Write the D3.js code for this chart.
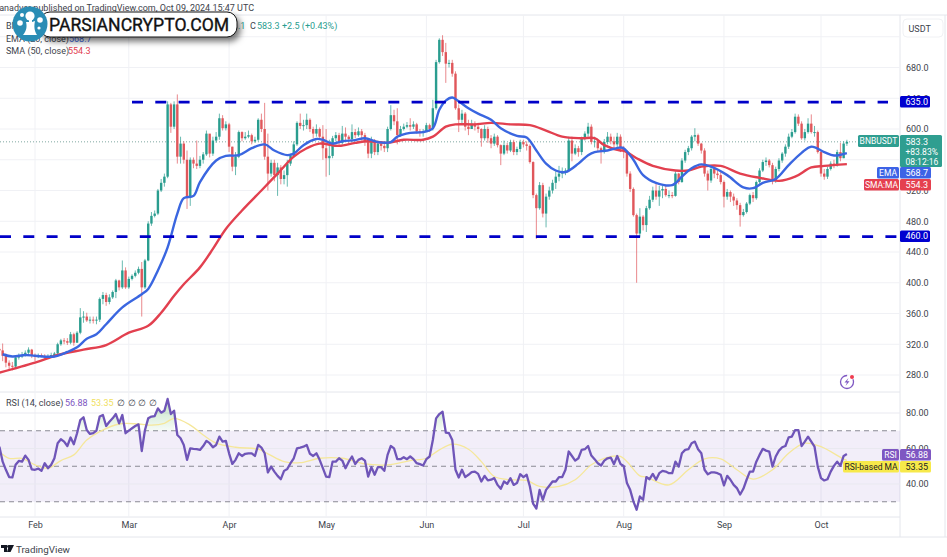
<!DOCTYPE html>
<html>
<head>
<meta charset="utf-8">
<script src="https://cdn.jsdelivr.net/npm/d3@7/dist/d3.min.js"></script>
<style>
html, body { margin: 0; padding: 0; background: #fff; }
svg { display: block; }
text { font-family: Roboto, sans-serif; }
</style>
</head>
<body>
<svg id="chart" width="947" height="557"></svg>
<script>
// daily closes, Jan 21 to Oct 9 2024, one row per month
var closes = [
  312,305,296,292,291,303,304,306,309,313,305,
  304,306,305,303,304,306,308,320,325,324,322,333,322,335,355,356,351,352,351,352,379,384,375,381,388,403,394,416,394,
  405,409,413,418,394,429,477,487,490,520,530,538,632,603,632,564,581,560,511,560,555,552,560,567,594,568,585,590,614,601,606,
  577,551,564,596,588,590,592,584,586,612,600,564,542,556,540,550,535,540,555,565,580,608,604,605,612,600,594,600,590,575,
  562,565,588,592,582,594,590,587,596,592,597,592,583,568,585,570,581,578,575,600,618,610,592,600,603,605,603,606,597,595,597,
  605,600,627,687,716,700,685,686,672,627,612,620,603,600,607,603,600,588,600,588,581,590,579,568,579,572,583,570,574,583,
  580,578,557,514,497,527,490,512,520,530,538,542,544,546,585,568,575,570,588,594,603,583,584,575,570,583,590,584,580,590,575,
  570,542,522,488,464,486,475,497,508,520,512,520,522,514,514,513,542,531,559,570,575,590,592,581,572,542,533,548,542,540,531,
  512,518,512,507,501,488,492,503,514,510,531,546,557,559,553,533,548,559,568,577,590,596,616,607,588,596,607,596,596,570,
  542,538,548,555,553,570,562,581,583.3
];
var highs = [
  316,321,308,299,297,305,308,310,312,316,314,
  308,308,308,307,307,309,310,322,327,328,328,336,335,337,367,363,361,356,356,356,381,388,387,385,390,405,404,429,420,
  408,411,416,421,427,431,480,492,494,522,535,542,636,634,636,645,590,584,572,563,563,585,565,570,598,592,590,596,620,618,610,
  608,577,570,598,597,596,598,594,590,614,620,634,594,560,560,556,553,546,560,568,584,610,620,612,620,614,603,606,602,605,
  600,586,591,596,595,604,602,592,606,600,602,600,595,585,590,587,585,584,582,603,631,625,627,604,607,609,614,610,608,600,600,
  608,607,638,690,718,722,712,690,690,675,632,625,622,612,612,610,608,601,605,603,592,594,592,580,585,582,586,586,577,586,
  586,584,580,558,516,531,530,516,525,534,545,552,550,549,590,590,580,578,590,597,608,606,590,586,577,587,596,594,590,595,593,
  578,572,545,524,490,497,488,500,513,525,530,526,526,526,520,518,545,543,562,573,578,592,601,594,582,575,546,552,551,546,544,
  533,522,520,516,510,504,496,505,516,518,533,549,560,563,561,556,551,562,570,580,594,600,620,619,610,600,614,619,604,598,
  572,548,551,558,560,573,582,584,586
];
var lows = [
  308,298,290,287,286,289,300,302,304,305,302,
  298,302,303,300,301,303,304,306,318,320,319,320,318,322,333,348,349,347,347,346,349,372,370,372,379,380,390,392,392,
  392,403,407,411,356,392,428,474,485,488,518,525,536,595,600,555,555,555,496,500,549,548,549,555,565,563,565,582,586,598,598,
  570,545,540,562,584,586,588,580,582,584,596,560,520,538,532,513,528,528,525,552,563,578,600,598,600,596,588,590,586,560,
  538,540,562,584,578,580,585,582,583,588,590,585,578,562,562,566,566,572,570,570,598,605,580,590,598,601,598,600,594,590,590,
  598,596,598,625,685,695,660,680,668,625,596,606,598,592,600,598,595,577,585,582,575,578,576,553,566,568,570,566,566,570,
  576,572,555,510,457,495,485,472,508,516,522,532,536,540,544,558,566,564,566,585,590,580,576,570,555,568,580,580,574,572,570,
  562,538,518,486,400,460,468,466,495,505,508,500,510,512,510,510,512,528,530,556,566,572,584,578,568,538,520,530,536,535,528,
  498,508,505,500,495,473,486,490,501,505,508,529,544,552,550,528,530,545,556,564,574,588,594,604,586,585,594,594,590,568,
  538,534,535,546,549,551,558,562,578
];
var rsi = [
  61,52.6,48,43.9,43.7,50.8,53,52.6,56,53.6,48.3,
  48,48.7,47.4,51.7,48.9,50.8,54.5,63,65.2,63.9,61.4,66.2,62.4,68.6,76,77.6,70.4,68.2,68.6,70.1,78,78.9,72.7,75.1,77,79.4,74.2,78.9,68.6,
  70.1,71.4,72.7,73.6,58.6,70.4,77,78,78.3,82.6,80.2,81.3,87.9,79.4,81.3,67.6,65.8,62,53.6,60.1,59.8,59.6,59.2,61.4,64.3,63,60.7,62,66.7,63.9,64.3,
  57.3,51.3,53.6,57.3,55.8,57,57.3,57.3,55.8,62,60.5,57.3,46.5,49.8,47,44.6,42.7,47.4,48.5,51.7,54.5,60.1,60.5,61,62,57,55.8,57.3,53.6,48.9,
  44.2,43.9,52.6,52.6,54.5,53.2,48.9,52.6,55.5,51.3,53.6,54.5,53.2,44.2,49.5,45.2,49.5,49.5,47.4,56.4,61.4,60.1,54,54,55.1,54,55.5,54,51.7,51.2,50.4,
  54,55.5,64.8,77,79.4,80.7,69,68.6,64.8,48,43.7,48,43.9,45.2,46.7,47,45.7,41.4,44.6,42,42.4,43.3,39.5,37.3,41.4,40.1,43.3,39.5,40.5,45.5,
  43.9,45.2,38.6,28.9,26.2,36.7,31.1,36.7,39,41.4,41.4,43.9,43.9,48,58.3,55.8,53.2,54.5,59.2,59.6,61.4,56,54,51.7,50.4,53.2,54.5,54.9,51.2,55.8,51.3,
  50.2,40.5,36.7,30.2,25.5,33,31.1,43.9,42.7,45.7,42.4,46.1,47.4,47,46.1,46.1,52.6,49.8,57.3,59.2,59.6,63,63.9,59.6,57.3,48,45.5,46.5,46.5,46.1,45.2,
  39.2,44.6,42.4,39.5,37.7,34.1,37.3,42.4,47,47,52.6,56.4,59.8,58.8,58.3,49.8,55.5,58.8,60.7,61.4,66.3,66.7,70.4,70.4,61.4,63.9,66.7,63.9,61,49.8,
  43.3,42,42.7,47,50.2,52.6,50.2,55.8,56.88
];

// moving averages read at spaced dates
var emaDates = ["01-22","01-25","01-29","02-01","02-07","02-11","02-14","02-17","02-20","02-23","02-28","03-05","03-07","03-10","03-13","03-16","03-18","03-21","03-23","03-28","03-31","04-04","04-08","04-12","04-15","04-19","04-21","04-24","04-28","04-30","05-03","05-06","05-10","05-13","05-17","05-21","05-23","05-27","05-31","06-03","06-05","06-07","06-09","06-11","06-14","06-17","06-21","06-24","06-29","07-02","07-05","07-08","07-11","07-14","07-18","07-21","07-23","07-27","07-31","08-01","08-04","08-07","08-11","08-16","08-19","08-22","08-25","08-28","09-02","09-07","09-10","09-13","09-17","09-21","09-25","09-28","10-02","10-05","10-09"];
var emaValues = [307,304,306,305,304,310,316,327,333,346,368,385,392,416,446,490,510,513,531,559,565,566,575,580,572,566,568,579,587,586,581,584,585.6,588,583,583,590,595,596,601,625,637,641,636,627,620,612,601,591,589,572,555,546,544,555,566,570,572,576,575,560,540,530,527,538,549,554,551,540,524,523,530,535,553,569,577,570,565.5,568.7];
var smaDates = ["01-21","02-01","02-08","02-16","02-23","03-01","03-07","03-11","03-15","03-18","03-23","03-27","03-31","04-05","04-11","04-16","04-21","04-25","04-29","05-05","05-10","05-14","05-20","05-25","05-31","06-03","06-07","06-10","06-16","06-21","06-27","07-03","07-08","07-13","07-19","07-23","07-26","07-31","08-01","08-05","08-10","08-17","08-21","08-25","08-31","09-06","09-12","09-18","09-23","09-28","10-02","10-09"];
var smaValues = [283,296,306,313,319,335,344,361,383,398,420,444,470,494,520,542,564,575,581,578,582,584,582,586,586,590,603,606,606,608,606,605,598,590,588,588,579,572,572,562,552,546,546,551,552,542,536.5,532.5,538,550,552,554.3];
var rsiMaDates = ["01-21","01-24","01-28","02-01","02-05","02-09","02-13","02-17","02-21","02-27","03-04","03-08","03-12","03-15","03-20","03-24","03-28","04-03","04-10","04-13","04-18","04-23","04-29","05-06","05-13","05-20","05-27","06-01","06-05","06-09","06-14","06-18","06-22","06-27","07-02","07-06","07-12","07-17","07-22","07-26","07-31","08-06","08-08","08-15","08-21","08-26","08-31","09-05","09-10","09-16","09-21","09-26","10-01","10-08","10-09"];
var rsiMaValues = [58.3,54.5,54.5,50.8,48.9,53.2,56.4,64.8,69.5,73.8,73.8,73.2,74.2,77,73.2,67.6,63,60.7,59.6,57,52.6,52,54.5,54.5,51.3,50.8,53.2,54.5,59.2,62.4,59.6,52.6,44.2,42.4,42,38.6,38.6,42.4,50.8,54.5,55.5,44.6,43.9,39.5,48,54.2,54.2,48,42.7,48,57.3,63,61,54,53.35];

var priceTicks = [280,320,360,400,440,480,520,560,600,640,680];
var rsiTicks = [40,60,80];
var levels = [635,460];
var monthLabels = ["Feb","Mar","Apr","May","Jun","Jul","Aug","Sep","Oct"];

var up = "#2a9d8f", down = "#e0575b";
var axisX = 900;

var parseDay = function(s) { return new Date("2024-" + s + "T00:00:00Z"); };
var days = closes.map(function(c, i) { return new Date(Date.UTC(2024, 0, 21 + i)); });
var monthDates = monthLabels.map(function(m, i) { return new Date(Date.UTC(2024, i + 1, 1)); });

var x = d3.scaleUtc().domain([new Date(Date.UTC(2024,1,1)), new Date(Date.UTC(2024,9,1))]).range([35, 821]);
var y = d3.scaleLinear().domain([280, 680]).range([375, 67.5]);
var yR = d3.scaleLinear().domain([40, 80]).range([484, 413]);

var svg = d3.select("#chart");
svg.append("rect").attr("width", 947).attr("height", 557).attr("fill", "#fff");

var defs = svg.append("defs");
defs.append("filter").attr("id", "pillShadow").attr("x", "-10%").attr("y", "-40%").attr("width", "120%").attr("height", "200%")
  .append("feDropShadow").attr("dx", 3).attr("dy", 4).attr("stdDeviation", 3).attr("flood-color", "#000").attr("flood-opacity", 0.55);
var grad = defs.append("linearGradient").attr("id", "obFill").attr("x1", 0).attr("x2", 0).attr("y1", 0).attr("y2", 1);
grad.append("stop").attr("offset", "0%").attr("stop-color", "#4caf50").attr("stop-opacity", 0.35);
grad.append("stop").attr("offset", "100%").attr("stop-color", "#4caf50").attr("stop-opacity", 0.05);

// panel frames
var frameColor = "#e4e6ec";
[[0,15,947,15],[0,392,900,392],[0,517,900,517],[0,537,947,537],[axisX,15,axisX,537],[945,15,945,537]].forEach(function(l) {
  svg.append("line").attr("x1", l[0]).attr("y1", l[1]).attr("x2", l[2]).attr("y2", l[3]).attr("stroke", frameColor);
});

// grid
svg.append("g").selectAll("line").data(monthDates).enter().append("line")
  .attr("x1", function(d) { return x(d); }).attr("x2", function(d) { return x(d); })
  .attr("y1", 15).attr("y2", 517).attr("stroke", "#f0f1f5");
svg.append("g").selectAll("line").data(priceTicks.concat([720])).enter().append("line")
  .attr("x1", 0).attr("x2", axisX)
  .attr("y1", function(d) { return y(d); }).attr("y2", function(d) { return y(d); })
  .attr("stroke", "#f0f1f5");

// RSI band
svg.append("rect").attr("x", 0).attr("width", axisX).attr("y", yR(70)).attr("height", yR(30) - yR(70)).attr("fill", "#7e57c2").attr("opacity", 0.1);
svg.append("g").selectAll("line").data(rsiTicks).enter().append("line")
  .attr("x1", 0).attr("x2", axisX)
  .attr("y1", function(d) { return yR(d); }).attr("y2", function(d) { return yR(d); })
  .attr("stroke", "#e9e9f0");
svg.append("g").selectAll("line").data([70,50,30]).enter().append("line")
  .attr("x1", 0).attr("x2", axisX)
  .attr("y1", function(d) { return yR(d); }).attr("y2", function(d) { return yR(d); })
  .attr("stroke", "#8a8a94").attr("stroke-dasharray", "5,4");

// last price dotted line
svg.append("line").attr("x1", 0).attr("x2", 858).attr("y1", y(583.3)).attr("y2", y(583.3))
  .attr("stroke", "#7fa8a2").attr("stroke-dasharray", "1,2");

// candles
var candles = svg.append("g");
candles.selectAll("line").data(closes).enter().append("line")
  .attr("x1", function(d, i) { return x(days[i]); })
  .attr("x2", function(d, i) { return x(days[i]); })
  .attr("y1", function(d, i) { return y(highs[i]); })
  .attr("y2", function(d, i) { return y(lows[i]); })
  .attr("stroke", function(d, i) { return d >= (i ? closes[i - 1] : 314) ? up : down; })
  .attr("stroke-opacity", 0.7)
  .attr("stroke-width", 1);
candles.selectAll("rect").data(closes).enter().append("rect")
  .attr("x", function(d, i) { return x(days[i]) - 1.2; })
  .attr("width", 2.4)
  .attr("y", function(d, i) { return y(Math.max(d, i ? closes[i - 1] : 314)); })
  .attr("height", function(d, i) { return Math.max(1, Math.abs(y(d) - y(i ? closes[i - 1] : 314))); })
  .attr("fill", function(d, i) { return d >= (i ? closes[i - 1] : 314) ? up : down; });

// moving averages
var priceLine = d3.line().x(function(d) { return x(parseDay(d[0])); }).y(function(d) { return y(d[1]); }).curve(d3.curveCatmullRom.alpha(0.5));
svg.append("path").attr("d", priceLine(d3.zip(smaDates, smaValues))).attr("fill", "none").attr("stroke", "#e2404f").attr("stroke-width", 2.4);
svg.append("path").attr("d", priceLine(d3.zip(emaDates, emaValues))).attr("fill", "none").attr("stroke", "#3a66e0").attr("stroke-width", 2.4);

// support and resistance
var levelStart = [132, 0], levelEnd = [888, 897];
svg.append("g").selectAll("line").data(levels).enter().append("line")
  .attr("x1", function(d, i) { return levelStart[i]; })
  .attr("x2", function(d, i) { return levelEnd[i]; })
  .attr("y1", function(d) { return y(d); }).attr("y2", function(d) { return y(d); })
  .attr("stroke", "#0000c8").attr("stroke-width", 2.6).attr("stroke-dasharray", "11,12.3");

// RSI
var rsiPts = d3.zip(days, rsi);
var ob = d3.area().defined(function(d) { return d[1] > 70; })
  .x(function(d) { return x(d[0]); }).y0(yR(70)).y1(function(d) { return yR(d[1]); });
svg.append("path").attr("d", ob(rsiPts)).attr("fill", "url(#obFill)");
var rsiMaLine = d3.line().x(function(d) { return x(parseDay(d[0])); }).y(function(d) { return yR(d[1]); }).curve(d3.curveCatmullRom.alpha(0.5));
svg.append("path").attr("d", rsiMaLine(d3.zip(rsiMaDates, rsiMaValues))).attr("fill", "none").attr("stroke", "#f5e79a").attr("stroke-width", 1.3);
var rsiLine = d3.line().x(function(d) { return x(d[0]); }).y(function(d) { return yR(d[1]); });
svg.append("path").attr("d", rsiLine(rsiPts)).attr("fill", "none").attr("stroke", "#6f55b8").attr("stroke-width", 2.3).attr("stroke-linejoin", "round");

// axes
var priceAxis = d3.axisRight(y).tickValues(priceTicks).tickSize(0).tickPadding(6).tickFormat(d3.format(".1f"));
var gP = svg.append("g").attr("transform", "translate(" + axisX + ",0)").call(priceAxis);
var rsiAxis = d3.axisRight(yR).tickValues(rsiTicks).tickSize(0).tickPadding(6).tickFormat(d3.format(".2f"));
var gR = svg.append("g").attr("transform", "translate(" + axisX + ",0)").call(rsiAxis);
var timeAxis = d3.axisBottom(x).tickValues(monthDates).tickSize(0).tickPadding(5).tickFormat(function(d, i) { return monthLabels[i]; });
var gT = svg.append("g").attr("transform", "translate(0,517)").call(timeAxis);
[gP, gR, gT].forEach(function(g) {
  g.select(".domain").remove();
  g.selectAll("text").attr("font-size", 9).attr("font-family", "Roboto, sans-serif").attr("fill", "#40434c");
});

// right hand tags
function tag(xa, w, yTop, h, color, label, textColor, anchor) {
  svg.append("rect").attr("x", xa).attr("y", yTop).attr("width", w).attr("height", h).attr("rx", 1.5).attr("fill", color);
  svg.append("text").attr("x", anchor === "middle" ? xa + w / 2 : xa + 5.5).attr("y", yTop + h / 2 + 3.2)
    .attr("text-anchor", anchor || "start").attr("font-size", anchor === "middle" ? 8.5 : 9).attr("fill", textColor || "#fff").text(label);
}
tag(900, 30, 96, 11.5, "#0000d0", "635.0");
tag(900, 30, 230.5, 11.5, "#0000d0", "460.0");
tag(858, 41, 135, 12, "#2f9e90", "BNBUSDT", "#fff", "middle");
svg.append("rect").attr("x", 900).attr("y", 135).attr("width", 42).attr("height", 32).attr("rx", 1.5).attr("fill", "#2f9e90");
["583.3", "+83.83%", "08:12:16"].forEach(function(s, i) {
  svg.append("text").attr("x", 905.5).attr("y", 144.5 + i * 10.4).attr("font-size", i ? 8.5 : 9).attr("fill", "#fff").text(s);
});
tag(877, 22, 167, 11.5, "#3d63e6", "EMA", "#fff", "middle");
tag(900, 31, 167, 11.5, "#3d63e6", "568.7");
tag(864, 35, 179, 11.5, "#e5404f", "SMA:MA", "#fff", "middle");
tag(900, 31, 179, 11.5, "#e5404f", "554.3");
tag(882, 17, 449, 11.5, "#7e57c2", "RSI", "#fff", "middle");
tag(900, 31, 449, 11.5, "#7e57c2", "56.88");
tag(843, 56, 461, 11.5, "#f7e94a", "RSI-based MA", "#222", "middle");
tag(900, 31, 461, 11.5, "#f7e94a", "53.35", "#222");

// currency box
svg.append("rect").attr("x", 903).attr("y", 19).attr("width", 40).attr("height", 18).attr("rx", 4).attr("fill", "#fff").attr("stroke", "#f0f1f4");
svg.append("text").attr("x", 908.5).attr("y", 32).attr("font-size", 9).attr("fill", "#40434c").text("USDT");

// lightning badge
var badge = svg.append("g").attr("transform", "translate(847,382)");
badge.append("circle").attr("r", 6.5).attr("fill", "none").attr("stroke", "#7e57c2").attr("stroke-width", 1.3).attr("stroke-dasharray", "30,7");
badge.append("path").attr("d", "M1.5,-4 L-2.5,0.6 L0,0.6 L-1.5,4 L2.5,-0.8 L0,-0.8 Z").attr("fill", "#7e57c2");
badge.append("circle").attr("cx", 5).attr("cy", -5).attr("r", 2).attr("fill", "#ef3b4f");

// legends
function label(xa, ya, s, color, size) {
  return svg.append("text").attr("x", xa).attr("y", ya).attr("font-size", size || 9).attr("fill", color).text(s);
}
label(6, 29, "BNBUSDT", "#40434c");
label(238, 29, ".1", "#2a9d8f");
label(250, 29, "C", "#40434c");
label(257, 29, "583.3", "#2a9d8f");
label(282, 29, "+2.5 (+0.43%)", "#2a9d8f");
label(6, 42, "EMA (20, close)", "#40434c");
label(69, 42, "568.7", "#3a66e0");
label(6, 54, "SMA (50, close)", "#40434c");
label(68, 54, "554.3", "#e2404f");
label(6, 406, "RSI (14, close)", "#40434c");
label(65, 406, "56.88", "#7e57c2");
label(91, 406, "53.35", "#f0e060");
["∅","∅","∅","∅"].forEach(function(s, i) { label(117 + i * 10.7, 406, s, "#40434c"); });

// header and footer
svg.append("text").attr("x", 254).attr("y", 10.5).attr("text-anchor", "end").attr("font-size", 9).attr("fill", "#40434c")
  .text("ranadver published on TradingView.com, Oct 09, 2024 15:47 UTC");
var tv = svg.append("g").attr("transform", "translate(1,545)").attr("fill", "#131722");
tv.append("path").attr("d", "M0,0 H6 V7 H3 V3 H0 Z M8,0 H13 L9.5,7 H6 Z");
tv.append("circle").attr("cx", 7.5).attr("cy", 1.5).attr("r", 1.4);
svg.append("text").attr("x", 16).attr("y", 553).attr("font-size", 9.8).attr("fill", "#40434c").text("TradingView");

// site watermark
svg.append("rect").attr("x", 40).attr("y", 12).attr("width", 197).attr("height", 25).attr("rx", 10)
  .attr("fill", "#fff").attr("stroke", "#111").attr("filter", "url(#pillShadow)");
svg.append("text").attr("x", 49).attr("y", 31).attr("font-size", 17.6)
  .attr("font-family", '"Liberation Sans", sans-serif').attr("fill", "#111").attr("stroke", "#111").attr("stroke-width", 0.35)
  .text("PARSIANCRYPTO.COM");
var logo = svg.append("g").attr("transform", "translate(30,24)");
logo.append("circle").attr("r", 17.5).attr("fill", "#2a8db5");
logo.append("path").attr("d", "M-7,11 C-3,6 -3,2 -4,-2 L-1,-2 L-1,-5 L2,-5 L2,-2 L5,-3 C4,2 4,6 7,11 Z").attr("fill", "#fff");
[[0,-8,4.6],[-10,-1,2.8],[10,-4,2.8],[-8,-9,2],[9,4,1.6]].forEach(function(c) {
  logo.append("circle").attr("cx", c[0]).attr("cy", c[1]).attr("r", c[2]).attr("fill", "#fff");
});
</script>
</body>
</html>
